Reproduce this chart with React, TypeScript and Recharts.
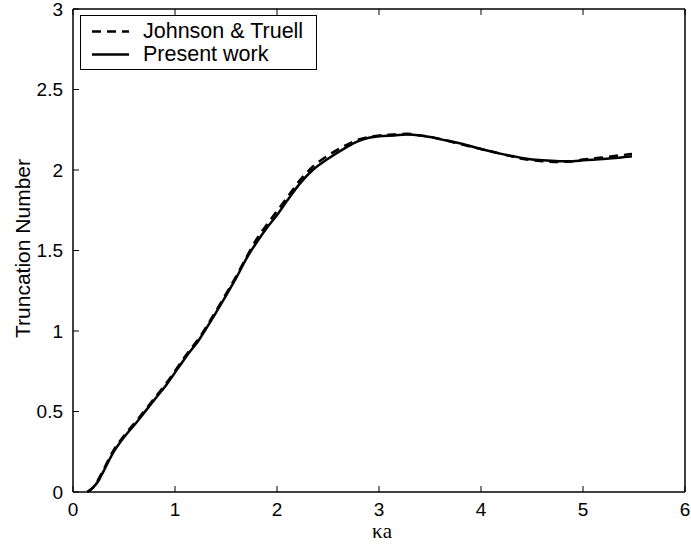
import { LineChart, Line, XAxis, YAxis } from "recharts";

/* ===== data ===== */
const kaValues = [
  0.14, 0.2, 0.25, 0.3, 0.39, 0.5, 0.62, 0.72, 0.82, 0.92, 1.02, 1.12, 1.23, 1.35, 1.5,
  1.6, 1.71, 1.8, 1.9, 2.0, 2.1, 2.23, 2.35, 2.5, 2.65, 2.78, 2.9, 3.0, 3.15, 3.27, 3.4,
  3.5, 3.65, 3.8, 4.0, 4.2, 4.4, 4.6, 4.77, 4.9, 5.0, 5.2, 5.35, 5.48,
];

const johnsonTruell = [
  0, 0.03, 0.08, 0.14, 0.25, 0.35, 0.44, 0.52, 0.6, 0.68, 0.77, 0.86, 0.95, 1.07, 1.23,
  1.34, 1.47, 1.57, 1.66, 1.745, 1.83, 1.94, 2.02, 2.09, 2.145, 2.185, 2.205, 2.215, 2.22,
  2.225, 2.215, 2.205, 2.185, 2.16, 2.13, 2.1, 2.07, 2.055, 2.05, 2.055, 2.065, 2.078, 2.09,
  2.1,
];

const presentWork = [
  0, 0.03, 0.07, 0.13, 0.24, 0.34, 0.43, 0.51, 0.59, 0.67, 0.76, 0.85, 0.94, 1.06, 1.22,
  1.33, 1.46, 1.55, 1.64, 1.72, 1.81, 1.92, 2.0, 2.07, 2.13, 2.175, 2.2, 2.21, 2.215, 2.22,
  2.215, 2.205, 2.185, 2.165, 2.13, 2.1, 2.075, 2.06, 2.055, 2.055, 2.06, 2.068, 2.076,
  2.085,
];

const xTicks = [0, 1, 2, 3, 4, 5, 6];
const yTicks = [0, 0.5, 1, 1.5, 2, 2.5, 3];

const chartData = kaValues.map((ka, i) => ({
  ka,
  jt: johnsonTruell[i],
  pw: presentWork[i],
}));

const FONT = "'Liberation Sans', Arial, Helvetica, sans-serif";
const axisLine = { stroke: "#000", strokeWidth: 1.5 };
const TICK_LEN = 6;
const X_MARGIN = 16;
const Y_MARGIN = 14;

/* ticks point inward, MATLAB style: draw the mark and the label together */
const BottomTick = ({ x, y, payload }: any) => (
  <g>
    <line x1={x} x2={x} y1={y - X_MARGIN} y2={y - X_MARGIN - TICK_LEN} stroke="#000" />
    <text x={x} y={y + 8} textAnchor="middle" fontSize={19} fontFamily={FONT} fill="#000">
      {payload.value}
    </text>
  </g>
);

const LeftTick = ({ x, y, payload }: any) => (
  <g>
    <line x1={x + Y_MARGIN} x2={x + Y_MARGIN + TICK_LEN} y1={y} y2={y} stroke="#000" />
    <text x={x + 4} y={y} textAnchor="end" dominantBaseline="central" fontSize={19} fontFamily={FONT} fill="#000">
      {payload.value}
    </text>
  </g>
);

const TopTick = ({ x, y }: any) => (
  <line x1={x} x2={x} y1={y} y2={y + TICK_LEN} stroke="#000" />
);

const RightTick = ({ x, y }: any) => (
  <line x1={x} x2={x - TICK_LEN} y1={y} y2={y} stroke="#000" />
);

const YLabel = ({ viewBox }: any) => {
  const x = 22;
  const y = viewBox.y + viewBox.height / 2 - 2;
  return (
    <text
      x={x}
      y={y}
      transform={`rotate(-90, ${x}, ${y})`}
      textAnchor="middle"
      dominantBaseline="central"
      fontSize={21}
      fontFamily={FONT}
      fill="#000"
    >
      Truncation Number
    </text>
  );
};

const XLabel = ({ viewBox }: any) => (
  <text
    x={viewBox.x + viewBox.width / 2 + 3}
    y={viewBox.y + 39}
    textAnchor="middle"
    dominantBaseline="central"
    fontSize={21}
    fontFamily="'Liberation Serif', 'DejaVu Serif', serif"
    fill="#000"
  >
    κa
  </text>
);

const LegendBox = () => (
  <div
    style={{
      position: "absolute",
      left: 80,
      top: 15,
      width: 237,
      height: 55,
      boxSizing: "border-box",
      border: "1.5px solid #000",
      background: "#fff",
      fontFamily: FONT,
      fontSize: 21.5,
      lineHeight: "23px",
      paddingTop: 4,
    }}
  >
    {[
      { name: "Johnson & Truell", dash: "9 6" },
      { name: "Present work", dash: undefined },
    ].map((item) => (
      <div key={item.name} style={{ display: "flex", alignItems: "center", height: 23 }}>
        <svg width={62} height={23} style={{ flex: "none" }}>
          <line
            x1={11}
            x2={48}
            y1={11.5}
            y2={11.5}
            stroke="#000"
            strokeWidth={2.5}
            strokeDasharray={item.dash}
          />
        </svg>
        <span>{item.name}</span>
      </div>
    ))}
  </div>
);

export default function App() {
  return (
    <div style={{ position: "absolute", left: 0, top: 0, width: 691, height: 546, background: "#fff" }}>
      <LineChart
        width={691}
        height={546}
        data={chartData}
        margin={{ top: 8, right: 5, bottom: 0, left: 0 }}
      >
        <XAxis
          xAxisId="bottom"
          dataKey="ka"
          type="number"
          domain={[0, 6]}
          ticks={xTicks}
          height={54}
          axisLine={axisLine}
          tickLine={false}
          tickSize={0}
          tickMargin={X_MARGIN}
          tick={<BottomTick />}
          interval={0}
          label={<XLabel />}
        />
        <XAxis
          xAxisId="top"
          orientation="top"
          dataKey="ka"
          type="number"
          domain={[0, 6]}
          ticks={xTicks}
          height={1}
          axisLine={axisLine}
          tickLine={false}
          tickSize={0}
          tickMargin={0}
          tick={<TopTick />}
          interval={0}
        />
        <YAxis
          yAxisId="left"
          type="number"
          domain={[0, 3]}
          ticks={yTicks}
          width={73}
          axisLine={axisLine}
          tickLine={false}
          tickSize={0}
          tickMargin={Y_MARGIN}
          tick={<LeftTick />}
          interval={0}
          label={<YLabel />}
        />
        <YAxis
          yAxisId="right"
          orientation="right"
          type="number"
          domain={[0, 3]}
          ticks={yTicks}
          width={1}
          axisLine={axisLine}
          tickLine={false}
          tickSize={0}
          tickMargin={0}
          tick={<RightTick />}
          interval={0}
        />
        <Line
          xAxisId="bottom"
          yAxisId="left"
          type="monotone"
          dataKey="jt"
          stroke="#000"
          strokeWidth={2.5}
          strokeDasharray="9 6"
          dot={false}
          isAnimationActive={false}
        />
        <Line
          xAxisId="bottom"
          yAxisId="left"
          type="monotone"
          dataKey="pw"
          stroke="#000"
          strokeWidth={2.5}
          dot={false}
          isAnimationActive={false}
        />
      </LineChart>
      <LegendBox />
    </div>
  );
}
